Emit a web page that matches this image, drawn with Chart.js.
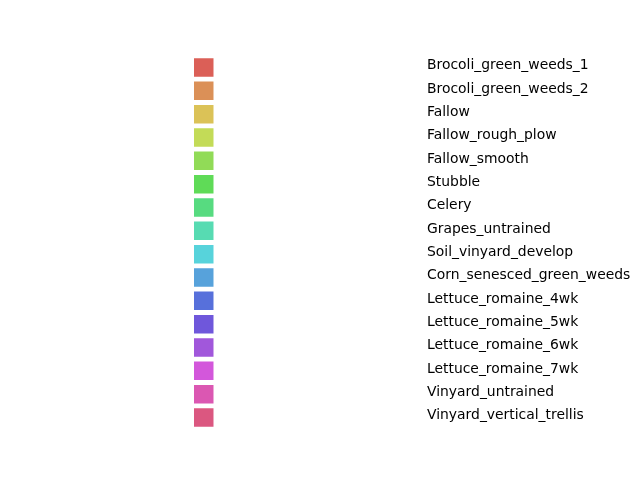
<!DOCTYPE html>
<html>
<head>
<meta charset="utf-8">
<script src="https://cdn.jsdelivr.net/npm/chart.js@4"></script>
<style>
html,body{margin:0;padding:0;background:#fff;}
#wrap{width:640px;height:480px;}
</style>
</head>
<body>
<div id="wrap"><canvas id="c" width="640" height="480"></canvas></div>
<script>
const categories = ["Brocoli_green_weeds_1","Brocoli_green_weeds_2","Fallow","Fallow_rough_plow","Fallow_smooth","Stubble","Celery","Grapes_untrained","Soil_vinyard_develop","Corn_senesced_green_weeds","Lettuce_romaine_4wk","Lettuce_romaine_5wk","Lettuce_romaine_6wk","Lettuce_romaine_7wk","Vinyard_untrained","Vinyard_vertical_trellis"];
const swatchStart = [0,0,0,0,0,0,0,0,0,0,0,0,0,0,0,0];
const swatchEnd = [1,1,1,1,1,1,1,1,1,1,1,1,1,1,1,1];
const colors = ["#db5f57","#db9057","#dbc257","#c3db57","#91db57","#5fdb57","#57db80","#57dbb2","#57d3db","#57a2db","#5770db","#6f57db","#a157db","#d357db","#db57b2","#db5780"];

const font = {family: "'DejaVu Sans'", size: 13.9};

new Chart(document.getElementById('c'), {
  type: 'bar',
  data: {
    labels: categories,
    datasets: [{
      data: swatchStart.map((s, i) => [s, swatchEnd[i]]),
      backgroundColor: colors,
      borderWidth: 0,
      categoryPercentage: 1,
      barPercentage: 0.79
    }]
  },
  options: {
    indexAxis: 'y',
    responsive: false,
    animation: false,
    layout: {padding: {top: 55.83, bottom: 50.83, left: 194, right: 0}},
    plugins: {legend: {display: false}, tooltip: {enabled: false}},
    scales: {
      x: {type: 'linear', display: false, min: 0, max: 11.59},
      y: {
        type: 'category', position: 'right', offset: true,
        border: {display: false},
        grid: {display: false, drawTicks: false},
        afterFit: (s) => { s.width = 220; },
        ticks: {
          autoSkip: false, labelOffset: -1.8,
          padding: 7, color: '#000', font: font, crossAlign: 'near'
        }
      }
    }
  }
});
</script>
</body>
</html>
